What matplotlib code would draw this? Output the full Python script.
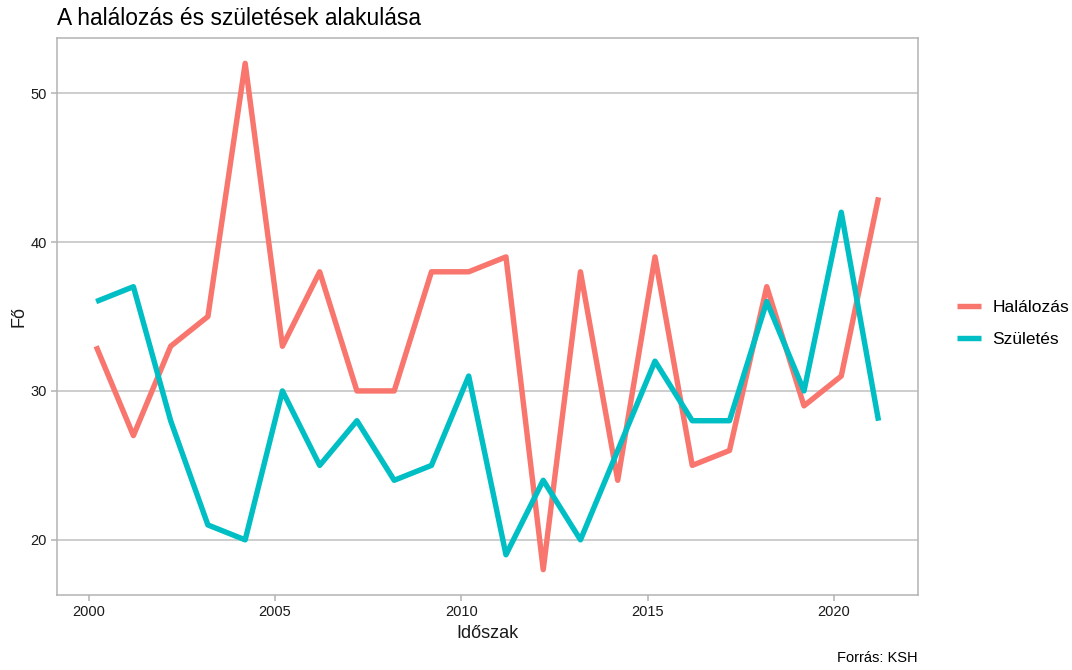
import numpy as np
import matplotlib.pyplot as plt

plt.rcParams["font.family"] = ["Liberation Sans", "DejaVu Sans"]

# data points are dated a bit after new year, so x sits slightly right of the tick
years = np.arange(2000, 2022) + 0.2
halalozas = [33, 27, 33, 35, 52, 33, 38, 30, 30, 38, 38, 39, 18, 38, 24, 39, 25, 26, 37, 29, 31, 43]
szuletes = [36, 37, 28, 21, 20, 30, 25, 28, 24, 25, 31, 19, 24, 20, 26, 32, 28, 28, 36, 30, 42, 28]
series_names = ["Halálozás", "Születés"]
series_colors = ["#F8766D", "#00BFC4"]
x_ticks = [2000, 2005, 2010, 2015, 2020]
y_ticks = [20, 30, 40, 50]


def main():
    fig = plt.figure(figsize=(10.72, 6.7), dpi=100)
    ax = fig.add_axes([0.0532, 0.112, 0.8028, 0.8313])

    for vals, name, col in zip([halalozas, szuletes], series_names, series_colors):
        ax.plot(years, vals, color=col, linewidth=3.9, label=name, solid_capstyle="butt")

    ax.set_xlim(years[0] - 1.05, years[-1] + 1.05)
    ax.set_ylim(16.3, 53.7)
    ax.set_xticks(x_ticks)
    ax.set_yticks(y_ticks)
    ax.grid(axis="y", color="#c0c0c0", linewidth=1.1)
    ax.set_axisbelow(True)
    for s in ax.spines.values():
        s.set_color("#b3b3b3")
        s.set_linewidth(1.1)
    ax.tick_params(colors="#b3b3b3", labelcolor="#1a1a1a", labelsize=10.5, length=4, width=1.1)

    ax.set_xlabel("Időszak", fontsize=13, color="#1a1a1a", labelpad=4)
    ax.set_ylabel("Fő", fontsize=13, color="#1a1a1a", labelpad=2)
    fig.text(0.0532, 0.963, "A halálozás és születések alakulása", fontsize=16.4, color="#000000",
             ha="left", va="baseline")
    fig.text(0.856, 0.0075, "Forrás: KSH", fontsize=10.5, color="#000000", ha="right", va="bottom")

    fig.legend(loc="center left", bbox_to_anchor=(0.878, 0.517), frameon=False, fontsize=12.5,
               handlelength=1.4, handletextpad=0.65, labelspacing=0.95)

    fig.savefig("out.png", dpi=100)
    plt.close(fig)


if __name__ == "__main__":
    main()
